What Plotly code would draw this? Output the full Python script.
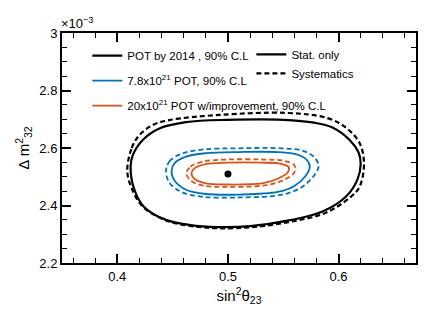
import plotly.graph_objects as go

# contours (sin^2 theta23, dm^2_32 in 1e-3 eV^2)
stat14_x = [0.412, 0.414, 0.423, 0.438, 0.462, 0.50, 0.55, 0.578, 0.594, 0.610, 0.618, 0.620,
            0.617, 0.607, 0.585, 0.555, 0.52, 0.49, 0.466, 0.444, 0.424, 0.415, 0.412]
stat14_y = [2.535, 2.575, 2.628, 2.668, 2.690, 2.698, 2.698, 2.688, 2.672, 2.628, 2.585, 2.545,
            2.490, 2.432, 2.378, 2.348, 2.328, 2.325, 2.332, 2.350, 2.396, 2.460, 2.535]
syst14_x = [0.409, 0.413, 0.420, 0.432, 0.447, 0.4925, 0.553, 0.589, 0.607, 0.619, 0.623, 0.619,
            0.611, 0.588, 0.556, 0.52, 0.49, 0.466, 0.444, 0.423, 0.413, 0.409]
syst14_y = [2.52, 2.60, 2.645, 2.680, 2.697, 2.715, 2.722, 2.705, 2.670, 2.617, 2.548, 2.465,
            2.43, 2.374, 2.343, 2.324, 2.321, 2.329, 2.348, 2.396, 2.46, 2.52]

stat78_x = [0.449, 0.452, 0.462, 0.48, 0.51, 0.545, 0.562, 0.571, 0.574, 0.570, 0.560, 0.545,
            0.51, 0.48, 0.462, 0.452, 0.449]
stat78_y = [2.520, 2.548, 2.570, 2.582, 2.586, 2.586, 2.578, 2.560, 2.535, 2.502, 2.468, 2.447,
            2.438, 2.440, 2.455, 2.485, 2.520]
syst78_x = [0.444, 0.447, 0.458, 0.478, 0.51, 0.548, 0.568, 0.578, 0.582, 0.577, 0.566, 0.548,
            0.51, 0.478, 0.458, 0.447, 0.444]
syst78_y = [2.520, 2.553, 2.580, 2.595, 2.599, 2.599, 2.590, 2.568, 2.537, 2.500, 2.462, 2.437,
            2.428, 2.430, 2.447, 2.480, 2.520]

stat20_x = [0.467, 0.470, 0.480, 0.50, 0.53, 0.548, 0.555, 0.554, 0.546, 0.532, 0.50, 0.48, 0.470, 0.467]
stat20_y = [2.512, 2.530, 2.544, 2.549, 2.549, 2.545, 2.533, 2.515, 2.495, 2.478, 2.473, 2.477, 2.492, 2.512]
syst20_x = [0.4625, 0.466, 0.478, 0.50, 0.53, 0.551, 0.560, 0.560, 0.551, 0.535, 0.50, 0.478, 0.466, 0.4625]
syst20_y = [2.512, 2.535, 2.553, 2.560, 2.560, 2.555, 2.540, 2.515, 2.490, 2.471, 2.465, 2.469, 2.488, 2.512]

best_x = [0.5]
best_y = [2.51]

names = ["POT by 2014 , 90% C.L",
         "7.8x10<sup>21</sup> POT, 90% C.L",
         "20x10<sup>21</sup> POT w/improvement, 90% C.L"]
colors = ["black", "#0072BD", "#D95319"]

FONT = "Liberation Sans, Arial, sans-serif"
DASH = "5px,3px"

fig = go.Figure()

sets = [(stat14_x, stat14_y, syst14_x, syst14_y, 2.2),
        (stat78_x, stat78_y, syst78_x, syst78_y, 1.8),
        (stat20_x, stat20_y, syst20_x, syst20_y, 1.8)]

for i, (sx, sy, dx, dy, w) in enumerate(sets):
    fig.add_trace(go.Scatter(x=dx, y=dy, mode="lines", line=dict(color=colors[i], width=w, dash=DASH, shape="spline", smoothing=1.0),
                             showlegend=False, hoverinfo="skip"))
    fig.add_trace(go.Scatter(x=sx, y=sy, mode="lines", name=names[i], legendgroup=f"g{i}",
                             line=dict(color=colors[i], width=w, shape="spline", smoothing=1.0),
                             legend="legend"))

# legend-only entries for the line styles
fig.add_trace(go.Scatter(x=[None], y=[None], mode="lines", name="Stat. only",
                         line=dict(color="black", width=2.2), legend="legend2"))
fig.add_trace(go.Scatter(x=[None], y=[None], mode="lines", name="Systematics",
                         line=dict(color="black", width=2.2, dash=DASH), legend="legend2"))

fig.add_trace(go.Scatter(x=best_x, y=best_y, mode="markers", marker=dict(color="black", size=7),
                         showlegend=False))

axis_common = dict(showline=True, linewidth=2, linecolor="black", mirror="allticks",
                   ticks="inside", ticklen=9, tickwidth=1.6, tickcolor="black",
                   tickfont=dict(family=FONT, size=13, color="black"))

fig.update_xaxes(range=[0.35, 0.67], tick0=0, dtick=0.1,
                 minor=dict(dtick=0.02, ticks="inside", ticklen=5, tickwidth=1.4, tickcolor="black"),
                 title=dict(text="sin<sup>2</sup>θ<sub>23</sub>", font=dict(family=FONT, size=15, color="black"), standoff=8),
                 **axis_common)
fig.update_yaxes(range=[2.2, 3.0], tick0=0, dtick=0.2,
                 minor=dict(dtick=0.05, ticks="inside", ticklen=5, tickwidth=1.4, tickcolor="black"),
                 title=dict(text="Δ m<sup>2</sup><sub>32</sub>", font=dict(family=FONT, size=15, color="black"), standoff=6),
                 **axis_common)

fig.add_annotation(text="×10<sup>−3</sup>", xref="paper", yref="paper", x=0, y=1,
                   xanchor="left", yanchor="bottom", xshift=-3, showarrow=False,
                   font=dict(family=FONT, size=13, color="black"))

# the page body adds an 8px offset, so the figure is sized to the rest of the window
fig.update_layout(
    width=427, height=315,
    margin=dict(l=54, r=19, t=25, b=60),
    template="simple_white",
    plot_bgcolor="white", paper_bgcolor="white",
    font=dict(family=FONT, color="black"),
    legend=dict(x=0.0715, y=0.965, xanchor="left", yanchor="top", bgcolor="rgba(0,0,0,0)",
                font=dict(family=FONT, size=11.5), tracegroupgap=6),
    legend2=dict(x=0.535, y=0.97, xanchor="left", yanchor="top", bgcolor="rgba(0,0,0,0)",
                 font=dict(family=FONT, size=11.5), tracegroupgap=0),
)
fig.update_xaxes(showgrid=False, zeroline=False)
fig.update_yaxes(showgrid=False, zeroline=False)

fig.write_html("out.html")
